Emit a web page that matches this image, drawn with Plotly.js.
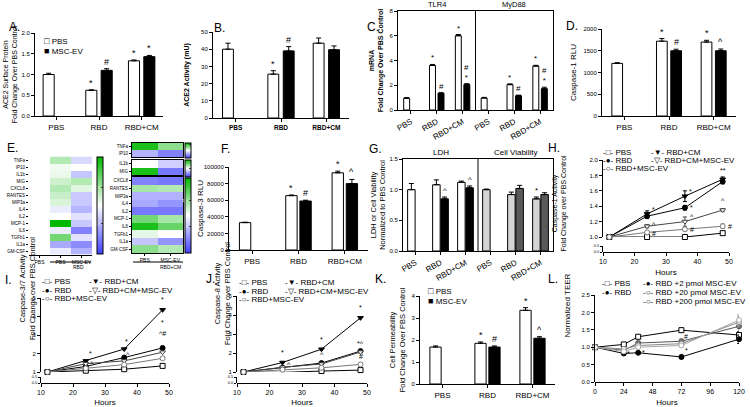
<!DOCTYPE html>
<html><head><meta charset="utf-8">
<script src="https://cdn.plot.ly/plotly-3.0.1.min.js"></script>
<style>html,body{margin:0;padding:0;background:#fff}#chart{width:750px;height:407px}</style>
</head><body><div id="chart"></div>
<script>
// ---------------- DATA ----------------
const barCats = ['PBS', 'RBD', 'RBD+CM'];
const cats6 = ['PBS', 'RBD', 'RBD+CM', 'PBS', 'RBD', 'RBD+CM'];
// A  ACE2 surface protein
const aPBS = [1.0, 0.62, 1.33], aPBSErr = [0.03, 0.01, 0.02];
const aEV = [null, 1.10, 1.43], aEVErr = [0, 0.04, 0.03];
const aMarkPBS = ['', '*', '*'], aMarkEV = ['', '#', '*'];
// B  ACE2 activity
const bPBS = [40, 25.5, 43.5], bPBSErr = [3.5, 2, 3];
const bEV = [null, 39, 39.7], bEVErr = [0, 2.5, 2.2];
const bMarkPBS = ['', '*', ''], bMarkEV = ['', '#', ''];
// C  mRNA TLR4 | MyD88
const cPBS = [0.95, 3.6, 6.0, 0.97, 2.05, 3.55], cPBSErr = [0.05, 0.08, 0.1, 0.05, 0.06, 0.06];
const cEV = [null, 1.35, 2.05, null, 1.15, 1.72], cEVErr = [0, 0.05, 0.08, 0, 0.05, 0.12];
const cMarkPBS = ['', '*', '*', '', '*', '*'], cMarkEV = ['', '#', '#<br>*', '', '#', '#<br>*'];
// D  Caspase-1 RLU
const dPBS = [1210, 1720, 1700], dPBSErr = [15, 60, 40];
const dEV = [null, 1500, 1500], dEVErr = [0, 35, 40];
const dMarkPBS = ['', '*', '*'], dMarkEV = ['', '#', '^'];
// E  cytokine heatmaps
const eRows = ['TNFa', 'IP10', 'IL1b', 'MIG', 'CXCL8', 'RANTES', 'MIP3a', 'IL4', 'IL2', 'MCP-1', 'IL6', 'TGFb1', 'IL1a', 'GM-CSF'];
const eLeftCols = ['PBS', 'PBS', 'MSC-EV'];
const eLeft = [[1, 1.3, 0.8], [1, 1.05, 1.0], [1, 1.08, 0.7], [1, 1.2, 1.3], [1, 1.3, 1.12], [1, 1.22, 0.72], [1, 1.15, 0.72],
  [1, 0.9, 0.62], [1, 1.0, 0.85], [1, 2.0, 0.72], [1, 0.9, 0.35], [1, 1.55, 0.85], [1, 0.55, 0.4], [1, 0.9, 0.6]];
const eRightCols = ['PBS', 'MSC-EV'];
const eRightTopRows = ['TNFa', 'IP10'];
const eRightTop = [[1.9, 1.45], [0.6, 0.35]];
const eRightMidRows = ['IL1b', 'MIG'];
const eRightMid = [[1.0, 0.75], [1.9, 0.3]];
const eRightBotRows = ['CXCL8', 'RANTES', 'MIP3a', 'IL4', 'IL2', 'MCP-1', 'IL6', 'TGFb1', 'IL1a', 'GM-CSF'];
const eRightBot = [[0.35, 0.3], [1.35, 1.3], [0.6, 0.6], [0.55, 0.45], [0.3, 0.3], [1.55, 1.35], [1.9, 1.6], [1.1, 1.0], [0.7, 0.45], [1.45, 1.3]];
// F  Caspase-3 RLU
const fPBS = [33000, 65500, 93000], fPBSErr = [500, 800, 2000];
const fEV = [null, 59000, 80000], fEVErr = [0, 1000, 5000];
const fMarkPBS = ['', '*', '*'], fMarkEV = ['', '#', '^'];
// G  LDH | Cell viability
const g1 = [1.0, 1.08, 1.12, 1.0, 0.92, 0.85], g1Err = [0.1, 0.08, 0.02, 0.01, 0.04, 0.03];
const g2 = [null, 0.85, 1.03, null, 1.02, 0.92], g2Err = [0, 0.03, 0.03, 0, 0.05, 0.03];
const gMark1 = ['', '', '', '', '', '*'], gMark2 = ['', '^', '^', '', '', ''];
// line-chart series names
const lineNames = ['PBS', 'RBD', 'RBD+CM', 'RBD+CM+MSC-EV', 'RBD+MSC-EV'];
const hours = [12, 24, 36, 48];
// H  Caspase-1 activity
const hVals = [[1.0, 1.0, 1.0, 1.05], [1.0, 1.27, 1.38, 1.72], [1.0, 1.3, 1.53, 1.75], [1.0, 1.14, 1.2, 1.35], [1.0, 1.06, 1.1, 1.14]];
const hErr = [[0.01, 0.01, 0.01, 0.02], [0.01, 0.03, 0.03, 0.03], [0.01, 0.04, 0.07, 0.03], [0.01, 0.02, 0.06, 0.02], [0.01, 0.02, 0.02, 0.03]];
// I  Caspase-3/7 activity
const iVals = [[1.0, 1.07, 1.15, 1.33], [1.0, 1.3, 1.78, 2.3], [1.0, 1.6, 2.24, 4.36], [1.0, 1.45, 1.6, 2.07], [1.0, 1.2, 1.4, 1.74]];
// J  Caspase-8 activity
const jVals = [[1.0, 0.98, 1.05, 1.1], [1.0, 1.22, 1.47, 2.1], [1.0, 1.5, 2.2, 3.85], [1.0, 1.25, 1.42, 2.05], [1.0, 1.12, 1.22, 1.4]];
// K  Cell permeability
const kPBS = [1.68, 1.85, 3.35], kPBSErr = [0.05, 0.06, 0.12];
const kEV = [null, 1.68, 2.08], kEVErr = [0, 0.05, 0.07];
const kMarkPBS = ['', '*', '*'], kMarkEV = ['', '#', '^'];
// L  TEER
const lNames = ['PBS', 'RBD', 'RBD +2 pmol MSC-EV', 'RBD +20 pmol MSC-EV', 'RBD +200 pmol MSC-EV'];
const lHours = [0, 24, 36, 72, 120];
const lVals = [[1, 1.08, 1.3, 1.49, 1.35], [1, 0.82, 0.84, 0.72, 1.23], [1, 0.91, 1.12, 1.17, 1.6], [1, 0.95, 1.05, 1.1, 1.72], [1, 0.88, 1.0, 1.05, 1.78]];
const lErr = [[0, 0.03, 0.03, 0.04, 0.1], [0, 0.03, 0.03, 0.05, 0.12], [0, 0.03, 0.04, 0.06, 0.15], [0, 0.03, 0.04, 0.05, 0.15], [0, 0.03, 0.04, 0.05, 0.15]];

// ---------------- BUILD ----------------
const W = 750, H = 407;
const px = x => x / W, py = y => 1 - y / H;
const FONT = 'Liberation Sans, Arial, sans-serif';
const traces = [], annotations = [], shapes = [];
const layout = {
  width: W, height: H, margin: {l: 0, r: 0, t: 0, b: 0}, paper_bgcolor: '#fff', plot_bgcolor: 'rgba(0,0,0,0)',
  font: {family: FONT, color: '#000', size: 8}, showlegend: false, barmode: 'overlay'
};
const key = id => id.replace(/^x/, 'xaxis').replace(/^y/, 'yaxis');
const baseAxis = {showline: true, linecolor: '#000', linewidth: 1, ticks: 'outside', ticklen: 3, tickwidth: 1, tickcolor: '#000',
  showgrid: false, zeroline: false, tickfont: {size: 6}, fixedrange: true};
function ann(text, x, y, o) {
  annotations.push(Object.assign({text, x: px(x), y: py(y), xref: 'paper', yref: 'paper', showarrow: false, font: {size: 8}}, o || {}));
}

function barPanel(xid, yid, c) {
  const xs = c.cats.map((_, i) => i);
  const w = c.w, g = c.g;
  const zeros = v => v.map(() => 0);
  [[c.s1, c.e1, -w - g / 2, c.c1, c.m1], [c.s2, c.e2, g / 2, c.c2, c.m2]].forEach(([s, e, off, col, m]) => {
    traces.push({type: 'bar', x: xs, y: s, width: w, offset: off, xaxis: xid, yaxis: yid, hoverinfo: 'skip', showlegend: false,
      marker: {color: col, line: {color: '#000', width: 1}},
      error_y: {type: 'data', symmetric: false, array: e, arrayminus: zeros(e), color: '#000', thickness: 1, width: 2.5}});
    if (m) m.forEach((t, i) => {
      if (!t) return;
      annotations.push({text: t, x: i + off + w / 2, y: s[i] + e[i], xref: xid, yref: yid, yanchor: 'bottom', yshift: 0,
        showarrow: false, font: {size: c.mfs || 9}});
    });
  });
  layout[key(xid)] = Object.assign({}, baseAxis, {domain: [px(c.x0), px(c.x1)], range: [-0.5, c.cats.length - 0.5], anchor: yid,
    tickvals: xs, ticktext: c.cats, tickangle: c.angle || 0, tickfont: {size: c.xfs || 8}, mirror: !!c.mirror});
  layout[key(yid)] = Object.assign({}, baseAxis, {domain: [py(c.y1), py(c.y0)], range: [0, c.ymax], anchor: xid, dtick: c.dtick,
    tickformat: c.fmt || '', mirror: !!c.mirror, title: {text: c.title, font: {size: c.tfs || 7.5}, standoff: c.standoff}});
}

const WHITE = ['#fff', '#fff', '#fff'], BLACK = ['#000', '#000', '#000'];
barPanel('x', 'y', {cats: barCats, s1: aPBS, e1: aPBSErr, s2: aEV, e2: aEVErr, m1: aMarkPBS, m2: aMarkEV, c1: WHITE, c2: BLACK,
  x0: 35, x1: 163, y0: 33, y1: 116, ymax: 2, dtick: 0.5, fmt: '.1f', w: 0.26, g: 0.1,
  title: 'ACE2 Surface Protein<br>Fold Change Over PBS Control', tfs: 7});
barPanel('x2', 'y2', {cats: barCats.map(s => '<b>' + s + '</b>'), s1: bPBS, e1: bPBSErr, s2: bEV, e2: bEVErr, m1: bMarkPBS, m2: bMarkEV,
  c1: WHITE, c2: BLACK, x0: 213, x1: 349, y0: 32, y1: 118, ymax: 50, dtick: 10, w: 0.24, g: 0.1, xfs: 6.5,
  title: '<b>ACE2 Activity (mU)</b>', tfs: 7});
barPanel('x3', 'y3', {cats: cats6, s1: cPBS, e1: cPBSErr, s2: cEV, e2: cEVErr, m1: cMarkPBS, m2: cMarkEV,
  c1: Array(6).fill('#fff'), c2: Array(6).fill('#000'), x0: 398, x1: 553, y0: 11, y1: 110, ymax: 8, dtick: 2, w: 0.23, g: 0.1,
  angle: -30, mirror: true, mfs: 8, title: '<b>mRNA<br>Fold Change Over PBS Control</b>', tfs: 7});
barPanel('x4', 'y4', {cats: barCats, s1: dPBS, e1: dPBSErr, s2: dEV, e2: dEVErr, m1: dMarkPBS, m2: dMarkEV, c1: WHITE, c2: BLACK,
  x0: 602, x1: 736, y0: 29, y1: 116, ymax: 2000, dtick: 500, w: 0.24, g: 0.08, title: 'Caspase-1 RLU', tfs: 8});
barPanel('x9', 'y9', {cats: barCats, s1: fPBS, e1: fPBSErr, s2: fEV, e2: fEVErr, m1: fMarkPBS, m2: fMarkEV, c1: WHITE, c2: BLACK,
  x0: 229, x1: 368, y0: 167, y1: 250, ymax: 100000, dtick: 20000, fmt: 'd', w: 0.245, g: 0.06, title: 'Caspase-3 RLU', tfs: 8});
barPanel('x10', 'y10', {cats: cats6, s1: g1, e1: g1Err, s2: g2, e2: g2Err, m1: gMark1, m2: gMark2,
  c1: ['#fff', '#fff', '#fff', '#d4d4d4', '#d4d4d4', '#d4d4d4'], c2: ['#000', '#000', '#000', '#5a5a5a', '#5a5a5a', '#5a5a5a'],
  x0: 403, x1: 553, y0: 159, y1: 251, ymax: 1.5, dtick: 0.5, fmt: '.1f', w: 0.3, g: 0.03, angle: -30, mirror: true, mfs: 8,
  title: 'LDH or Cell Viability<br>Normalized to PBS Control', tfs: 7.5});
barPanel('x14', 'y17', {cats: barCats, s1: kPBS, e1: kPBSErr, s2: kEV, e2: kEVErr, m1: kMarkPBS, m2: kMarkEV, c1: WHITE, c2: BLACK,
  x0: 420, x1: 555, y0: 296, y1: 384, ymax: 4, dtick: 1, w: 0.25, g: 0.06,
  title: 'Cell Permeability<br>Fold Change Over PBS Control', tfs: 7.5});

// dividers + group titles for C and G
[['x3', 'y3'], ['x10', 'y10']].forEach(([xa, ya]) => {
  shapes.push({type: 'line', xref: xa, yref: ya + ' domain', x0: 2.5, x1: 2.5, y0: 0, y1: 1, line: {color: '#000', width: 1}});
});
annotations.push({text: 'TLR4', x: 1, y: 1, xref: 'x3', yref: 'y3 domain', yanchor: 'bottom', showarrow: false, font: {size: 7.5}});
annotations.push({text: 'MyD88', x: 4, y: 1, xref: 'x3', yref: 'y3 domain', yanchor: 'bottom', showarrow: false, font: {size: 7.5}});
annotations.push({text: 'LDH', x: 1, y: 1, xref: 'x10', yref: 'y10 domain', yanchor: 'bottom', showarrow: false, font: {size: 8}});
annotations.push({text: 'Cell Viability', x: 4, y: 1, xref: 'x10', yref: 'y10 domain', yanchor: 'bottom', showarrow: false, font: {size: 8}});

// ---------------- HEATMAPS (E) ----------------
const CS = [[0, '#3f3fff'], [0.5, '#ffffff'], [1, '#00b800']];
function heat(xid, yid, z, rows, cols, ca, c) {
  traces.push({type: 'heatmap', z: z, x: cols.map((_, i) => i), y: rows.map((_, i) => i), xaxis: xid, yaxis: yid, coloraxis: ca,
    hoverinfo: 'skip', xgap: 0, ygap: 0});
  layout[key(xid)] = Object.assign({}, baseAxis, {domain: [px(c.x0), px(c.x1)], range: [-0.5, cols.length - 0.5], anchor: yid,
    tickvals: cols.map((_, i) => i), ticktext: c.showX ? cols : cols.map(() => ''), ticks: c.showX ? 'outside' : '',
    tickfont: {size: 5}, ticklen: 2, mirror: c.box, showline: c.box || c.showX});
  layout[key(yid)] = Object.assign({}, baseAxis, {domain: [py(c.y1), py(c.y0)], range: [rows.length - 0.5, -0.5], anchor: xid,
    tickvals: rows.map((_, i) => i), ticktext: rows, tickfont: {size: 4.5}, ticklen: 2, mirror: c.box, showline: !!c.box});
}
heat('x5', 'y5', eLeft, eRows, eLeftCols, 'coloraxis', {x0: 29, x1: 92, y0: 156.5, y1: 254.5, showX: true, box: false});
heat('x6', 'y6', eRightTop, eRightTopRows, eRightCols, 'coloraxis2', {x0: 132, x1: 183, y0: 143, y1: 157, showX: false, box: true});
heat('x7', 'y7', eRightMid, eRightMidRows, eRightCols, 'coloraxis3', {x0: 132, x1: 183, y0: 160, y1: 175, showX: false, box: true});
heat('x8', 'y8', eRightBot, eRightBotRows, eRightCols, 'coloraxis4', {x0: 132, x1: 183, y0: 177, y1: 253, showX: true, box: true});
function cbar(x, y0, y1, tv, tt) {
  return {colorscale: CS, cmin: 0, cmax: 2, colorbar: {x: px(x), xanchor: 'left', y: py(y0), yanchor: 'top', len: (y1 - y0) / H,
    lenmode: 'fraction', thickness: 6, thicknessmode: 'pixels', outlinewidth: 1, outlinecolor: '#000', xpad: 0, ypad: 0,
    tickvals: tv, ticktext: tt, ticklabelposition: 'inside', tickfont: {size: 4}, ticks: 'inside', ticklen: 2}};
}
layout.coloraxis = cbar(97, 157, 254, [0.63, 1.37], ['0.5', '1.5']);
layout.coloraxis2 = cbar(185, 143, 158, [1.8], ['100']);
layout.coloraxis3 = cbar(185, 160, 177, [1], ['']);
layout.coloraxis4 = cbar(185, 178, 253, [0.7, 1.4], ['5', '10']);
// E column group labels
shapes.push({type: 'line', xref: 'paper', yref: 'paper', x0: px(50), x1: px(91), y0: py(262), y1: py(262), line: {color: '#000', width: 1}});
shapes.push({type: 'line', xref: 'paper', yref: 'paper', x0: px(133), x1: px(183), y0: py(262), y1: py(262), line: {color: '#000', width: 1}});
ann('RBD', 71, 267, {font: {size: 5}});
ann('RBD+CM', 158, 267, {font: {size: 5}});

// ---------------- LINE PANELS ----------------
const lineStyles = [
  {symbol: 'square', fill: '#fff', line: '#000'},
  {symbol: 'circle', fill: '#000', line: '#000'},
  {symbol: 'triangle-down', fill: '#000', line: '#000'},
  {symbol: 'triangle-down', fill: '#fff', line: '#444'},
  {symbol: 'circle', fill: '#fff', line: '#777'}
];
function linePanel(xid, yMain, yLow, c) {
  c.vals.forEach((v, k) => {
    const st = c.styles[k];
    const t = {type: 'scatter', mode: 'lines+markers', x: c.xs, y: v, xaxis: xid, yaxis: yMain, hoverinfo: 'skip', cliponaxis: false,
      line: {color: st.line, width: 1}, marker: {symbol: st.symbol, size: 5, color: st.fill, line: {color: st.line, width: 1}}};
    if (c.errs) t.error_y = {type: 'data', array: c.errs[k], color: st.line, thickness: 1, width: 2};
    traces.push(t);
  });
  layout[key(xid)] = Object.assign({}, baseAxis, {domain: [px(c.x0), px(c.x1)], range: c.xrange, anchor: 'free', position: py(c.xline),
    tickvals: c.xticks, tickfont: {size: 7}, title: {text: 'Hours', font: {size: 8}, standoff: 4}});
  layout[key(yMain)] = Object.assign({}, baseAxis, {domain: [py(c.ybot), py(c.ytop)], range: c.yrange, anchor: xid, dtick: c.dtick,
    tickformat: c.fmt || '', tickfont: {size: 6}});
  ann(c.title, c.tx, c.ty, {textangle: -90, font: {size: c.tfs || 7}});
  if (yLow) {
    traces.push({type: 'scatter', x: [], y: [], xaxis: xid, yaxis: yLow, hoverinfo: 'skip'});
    layout[key(yLow)] = Object.assign({}, baseAxis, {domain: [py(c.xline), py(c.xline - 6)], range: [0, 0.5], anchor: xid,
      tickvals: [0, 0.5], ticktext: ['0.0', '0.5'], tickfont: {size: 4}, ticklen: 2});
  }
  (c.marks || []).forEach(([s, i, t, dx, dy]) => {
    annotations.push({text: t, x: c.xs[i], y: c.vals[s][i], xref: xid, yref: yMain, xshift: dx, yshift: dy, showarrow: false, font: {size: 7}});
  });
}
const ls5 = lineStyles;
linePanel('x11', 'y11', 'y12', {vals: hVals, errs: hErr, xs: hours, styles: ls5, x0: 603, x1: 729, xrange: [10, 50], xticks: [10, 20, 30, 40, 50],
  xline: 252, ytop: 160, ybot: 237, yrange: [1, 2], dtick: 0.2, fmt: '.1f', title: 'Caspase-1 Activity<br>Fold Change over PBS Control',
  tx: 569, ty: 203,
  marks: [[2, 1, '*', 6, 4], [3, 1, '^', 7, 2], [4, 1, '#', 7, -1], [2, 2, '*', 6, 5], [1, 2, '*', 7, 0], [3, 2, '^', 7, 5], [4, 2, '#', 7, 0],
    [2, 3, '**', 0, 9], [3, 3, '^', 0, 10], [4, 3, '#', 7, 0]]});
linePanel('x12', 'y13', 'y14', {vals: iVals, xs: hours, styles: ls5, x0: 41, x1: 169, xrange: [10, 50], xticks: [10, 20, 30, 40, 50],
  xline: 383, ytop: 298, ybot: 372, yrange: [1, 5], dtick: 1, title: 'Caspase-3/7 Activity<br>Fold Change over PBS Control',
  tx: 16, ty: 342, tfs: 7.5,
  marks: [[2, 1, '*', 5, 7], [3, 1, '^', 6, 0], [2, 2, '*', 2, 8], [3, 2, '^', 4, 6], [2, 3, '*', 0, 10], [1, 3, '*', 0, 25], [1, 3, '^#', 0, 14]]});
linePanel('x13', 'y15', 'y16', {vals: jVals, xs: hours, styles: ls5, x0: 237, x1: 367, xrange: [10, 50], xticks: [10, 20, 30, 40, 50],
  xline: 383, ytop: 296, ybot: 372, yrange: [1, 5], dtick: 1, title: 'Caspase-8 Activity<br>Fold Change over PBS Control',
  tx: 211, ty: 347, tfs: 7.5,
  marks: [[2, 1, '*', 0, 10], [3, 1, '^', 6, 3], [2, 2, '*', 0, 10], [3, 2, '^', 0, 10], [2, 3, '*', 0, 10], [1, 3, '*^', 0, 8], [4, 3, '#', 0, 8]]});
const lStyles = [
  {symbol: 'square', fill: '#fff', line: '#000'},
  {symbol: 'circle', fill: '#000', line: '#000'},
  {symbol: 'circle', fill: '#777', line: '#555'},
  {symbol: 'circle', fill: '#fff', line: '#888'},
  {symbol: 'circle', fill: '#fff', line: '#aaa'}
];
linePanel('x15', 'y18', null, {vals: lVals, errs: lErr, xs: lHours, styles: lStyles, x0: 595, x1: 739, xrange: [0, 120], xticks: [0, 24, 48, 72, 96, 120],
  xline: 382, ytop: 295, ybot: 382, yrange: [0, 2.5], dtick: 0.5, fmt: '.1f', title: 'Normalized TEER', tx: 573, ty: 340, tfs: 8,
  marks: [[1, 1, '*', 5, 0], [1, 2, '*', 5, 0], [1, 3, '*', 5, 6], [2, 3, '#', 5, 5]]});

// ---------------- LEGENDS (text keys) ----------------
const LF = {size: 8};
ann('<span style="font-size:9px">□</span> PBS', 42, 34, {xanchor: 'left', font: LF});
ann('<span style="font-size:9px">■</span> MSC-EV', 42, 44, {xanchor: 'left', font: LF});
ann('<span style="font-size:9px">□</span> PBS', 426, 298, {xanchor: 'left', font: LF});
ann('<span style="font-size:9px">■</span> MSC-EV', 426, 308, {xanchor: 'left', font: LF});
function lineLegend(x1, x2, y0, step, col1, col2) {
  col1.forEach((t, i) => ann(t, x1, y0 + i * step, {xanchor: 'left', font: LF}));
  col2.forEach((t, i) => ann(t, x2, y0 + i * step, {xanchor: 'left', font: LF}));
}
const sym = {sq: '-□-', ci: '-●-', tr: '-▼-', trO: '-▽-', ciO: '-○-'};
lineLegend(601, 649, 152, 8.5, [sym.sq + ' PBS', sym.ci + ' RBD', sym.ciO + ' RBD+MSC-EV'], [sym.tr + ' RBD+CM', sym.trO + ' RBD+CM+MSC-EV']);
lineLegend(40, 87, 288, 8.5, [sym.sq + ' PBS', sym.ci + ' RBD', sym.ciO + ' RBD+MSC-EV'], [sym.tr + ' RBD+CM', sym.trO + ' RBD+CM+MSC-EV']);
lineLegend(237, 283, 289, 8.5, [sym.sq + ' PBS', sym.ci + ' RBD', sym.ciO + ' RBD+MSC-EV'], [sym.tr + ' RBD+CM', sym.trO + ' RBD+CM+MSC-EV']);
lineLegend(600, 641, 290, 9, [sym.sq + ' PBS', sym.ci + ' RBD'], [sym.ci + ' RBD +2 pmol MSC-EV', sym.ciO + ' RBD +20 pmol MSC-EV', sym.ciO + ' RBD +200 pmol MSC-EV']);

// ---------------- PANEL LETTERS ----------------
const PL = {size: 12};
[['A.', 7, 18], ['B.', 212, 19], ['C.', 373, 18], ['D.', 580, 17], ['E.', 5, 148], ['F.', 219, 149], ['G.', 375, 149], ['H.', 562, 148],
  ['I.', 3, 289], ['J.', 204, 288], ['K.', 380, 288], ['L.', 560, 288]].forEach(([t, x, y]) => ann(t, x, y, {font: PL}));

layout.annotations = annotations;
layout.shapes = shapes;
Plotly.newPlot('chart', traces, layout, {staticPlot: true, displayModeBar: false});
</script></body></html>
